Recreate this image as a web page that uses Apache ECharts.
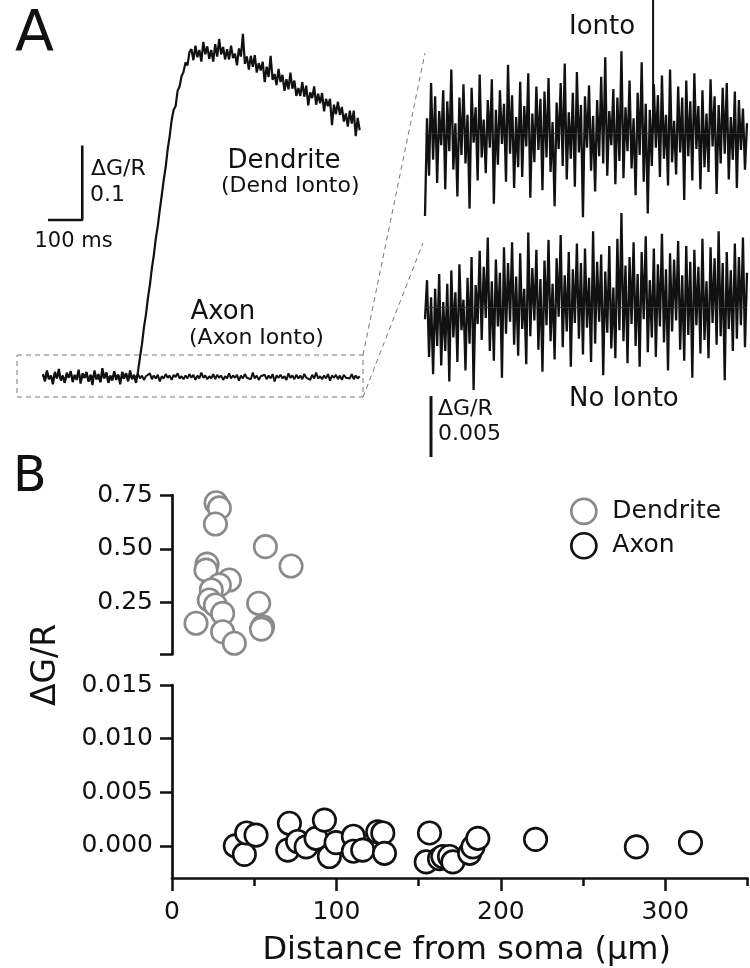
<!DOCTYPE html>
<html><head><meta charset="utf-8">
<script src="https://cdn.jsdelivr.net/npm/echarts@6.0.0/dist/echarts.min.js"></script>
<style>html,body{margin:0;padding:0;background:#fff}#c{width:750px;height:968px}</style>
</head><body><div id="c"></div>
<script>
// ---------- Panel A: traces (ΔG/R), sampled every TRACE_DT_MS ----------
const TRACE_DT_MS = 6;
const dendriteTrace = [
 0.004,-0.006,0.009,-0.003,0.002,-0.010,0.007,-0.002,0.011,-0.005,
 0.001,-0.008,0.006,-0.001,0.008,-0.007,0.003,-0.004,0.010,-0.009,
 0.005,0.000,0.007,-0.006,0.002,-0.011,0.009,-0.003,0.004,-0.007,
 0.012,-0.002,0.006,-0.008,0.001,-0.005,0.008,-0.004,0.003,-0.010,
 0.007,0.000,0.005,-0.006,0.009,-0.003,0.002,-0.008,
 0.008,0.027,0.045,0.068,0.085,0.108,0.126,0.149,0.167,0.190,0.207,0.229,0.249,0.270,0.288,0.312,0.330,
 0.352,0.366,0.371,0.392,0.398,0.412,0.418,0.431,0.427,0.445,
 .449,.434,.454,.438,.448,.432,.459,.442,.453,.436,
 .448,.432,.456,.439,.463,.442,.452,.435,.449,.435,
 .454,.437,.443,.427,.450,.439,.470,.429,.439,.421,
 .440,.425,.441,.417,.430,.420,.432,.404,.425,.411,
 .440,.407,.415,.400,.422,.404,.414,.392,.408,.394,
 .417,.395,.406,.385,.396,.385,.404,.384,.399,.372,
 .390,.382,.398,.373,.388,.375,.389,.364,.381,.371,
 .381,.345,.373,.360,.377,.359,.370,.350,.361,.343,
 .365,.347,.365,.330,.355,.338
];
const axonTrace = [
 0.003,-0.004,0.006,-0.002,0.001,-0.005,0.004,-0.001,0.005,-0.003,
 0.002,-0.006,0.003,0.000,0.006,-0.004,0.001,-0.002,0.007,-0.005,
 0.002,-0.001,0.004,-0.006,0.003,-0.002,0.005,-0.003,0.000,-0.007,
 0.004,-0.001,0.006,-0.004,0.002,-0.003,0.005,0.000,0.003,-0.005,
 0.001,-0.002,0.004,-0.004,0.002,-0.001,0.003,-0.003,0.004,-0.002,
 0.002,-0.004,0.001,-0.001,0.005,-0.003,0.002,-0.002,0.003,-0.006,
 0.001,-0.002,0.004,-0.001,0.002,-0.004,0.003,0.000,0.005,-0.002,
 0.001,-0.003,0.002,-0.002,0.004,-0.001,0.003,-0.004,0.002,-0.002,
 0.006,-0.001,0.002,-0.003,0.001,-0.002,0.004,-0.003,0.003,-0.001,
 0.002,-0.004,0.001,-0.002,0.005,-0.002,0.002,-0.001,0.003,-0.005,
 0.002,-0.002,0.004,-0.001,0.001,-0.003,0.006,-0.002,0.002,-0.004,
 0.001,-0.001,0.003,-0.003,0.002,-0.002,0.004,-0.006,0.002,-0.001,
 0.003,-0.002,0.001,-0.004,0.005,-0.001,0.002,-0.003,0.003,-0.002,
 0.002,-0.003,0.004,-0.001,0.001,-0.004,0.003,-0.002,0.006,-0.002,
 0.001,-0.003,0.002,-0.002,0.004,-0.005,0.002,-0.001,0.003,-0.003,
 0.002,-0.004,0.003,-0.001,0.001,-0.002,0.004,-0.003,0.002,-0.002,
 0.001
];
// zoomed axon traces (ΔG/R), spanning ZOOM_SPAN_MS
const ZOOM_SPAN_MS = 967;
const iontoTrace = [
 -.0068,.0012,-.0035,.0041,-.0022,.0030,-.0041,.0018,-.0010,.0035,
 -.0046,.0026,-.0015,.0052,-.0030,.0008,-.0052,.0029,-.0018,.0040,
 -.0025,.0015,-.0062,.0037,-.0008,.0021,-.0039,.0048,-.0020,.0011,
 -.0033,.0027,-.0012,.0044,-.0058,.0019,-.0026,.0035,-.0009,.0024,
 -.0040,.0056,-.0017,.0031,-.0045,.0013,-.0028,.0042,-.0036,.0022,
 -.0011,.0049,-.0053,.0016,-.0024,.0038,-.0014,.0028,-.0047,.0034,
 -.0020,.0045,-.0032,.0009,-.0060,.0025,-.0013,.0041,-.0027,.0057,
 -.0038,.0017,-.0021,.0033,-.0044,.0050,-.0016,.0023,-.0069,.0030,
 -.0012,.0039,-.0031,.0014,-.0048,.0027,-.0019,.0046,-.0025,.0062,
 -.0035,.0018,-.0010,.0036,-.0042,.0029,-.0023,.0067,-.0037,.0021,
 -.0015,.0043,-.0029,.0012,-.0051,.0033,-.0018,.0058,-.0040,.0024,
 -.0066,.0019,-.0027,.0040,-.0012,.0031,-.0036,.0047,-.0021,.0015,
 -.0043,.0052,-.0024,.0010,-.0034,.0038,-.0016,.0029,-.0055,.0043,
 -.0019,.0026,-.0039,.0049,-.0013,.0022,-.0046,.0035,-.0028,.0016,
 -.0032,.0044,-.0011,.0030,-.0050,.0023,-.0025,.0037,-.0017,.0041,
 -.0038,.0013,-.0022,.0034,-.0045,.0027,-.0014,.0020,-.0030,.0008
];
const noIontoTrace = [
 -.0010,.0022,-.0041,.0008,-.0055,.0015,-.0032,.0027,-.0048,.0004,
 -.0036,.0019,-.0061,.0030,-.0025,.0012,-.0045,.0035,-.0019,.0006,
 -.0052,.0024,-.0030,.0041,-.0068,.0018,-.0014,.0046,-.0027,.0033,
 -.0009,.0057,-.0036,.0021,-.0044,.0039,-.0016,.0028,-.0058,.0049,
 -.0022,.0036,-.0012,.0053,-.0031,.0025,-.0040,.0044,-.0018,.0015,
 -.0047,.0061,-.0024,.0032,-.0011,.0047,-.0035,.0023,-.0053,.0038,
 -.0015,.0055,-.0028,.0019,-.0043,.0040,-.0008,.0059,-.0033,.0026,
 -.0020,.0045,-.0049,.0031,-.0013,.0052,-.0026,.0036,-.0039,.0048,
 -.0017,.0024,-.0045,.0062,-.0030,.0037,-.0012,.0043,-.0056,.0029,
 -.0021,.0050,-.0034,.0016,-.0042,.0056,-.0019,.0077,-.0028,.0034,
 -.0046,.0041,-.0014,.0053,-.0032,.0027,-.0049,.0045,-.0010,.0058,
 -.0037,.0022,-.0025,.0048,-.0041,.0035,-.0016,.0060,-.0029,.0031,
 -.0052,.0044,-.0020,.0039,-.0011,.0054,-.0035,.0026,-.0044,.0050,
 -.0023,.0037,-.0058,.0047,-.0015,.0033,-.0038,.0056,-.0027,.0021,
 -.0042,.0049,-.0013,.0040,-.0031,.0062,-.0024,.0036,-.0060,.0045,
 -.0018,.0030,-.0036,.0052,-.0026,.0041,-.0015,.0057,-.0033,.0028
];
const iontoOnsetMs = 685;
// scale bars: [time ms, ΔG/R]
const scaleBarMain = [[119, 0.3155], [119, 0.215], [19, 0.215]];   // 0.1 ΔG/R, 100 ms
const scaleBarZoom = [[18, -0.0073], [18, -0.0123]];                // 0.005 ΔG/R

// ---------- Panel B: scatter ----------
const dendDistance = [26.8,28.8,26.4,56.8,72.4,21.3,20.7,34.9,28.8,23.9,22.7,26.4,30.8,14.6,30.8,37.9,52.7,55.1,54.4];
const dendDGR      = [0.714,0.690,0.615,0.510,0.420,0.429,0.401,0.355,0.332,0.309,0.262,0.239,0.200,0.154,0.115,0.061,0.247,0.138,0.127];
const axonDistance = [38.5,44.0,45.4,51.1,71.4,70.4,76.4,81.6,87.6,92.7,95.7,99.8,110.3,110.3,116.0,125.1,128.2,129.2,156.6,154.6,162.7,164.7,168.8,170.8,181.0,183.0,186.0,221.1,282.4,315.3];
const axonDGR      = [0.0000,-0.0008,0.0012,0.0010,0.0021,-0.0004,0.0004,-0.0001,0.0007,0.0024,-0.0010,0.0003,0.0009,-0.0005,-0.0004,0.0013,0.0012,-0.0007,0.0012,-0.0015,-0.0012,-0.0010,-0.0010,-0.0015,-0.0007,-0.0001,0.0007,0.0006,-0.0001,0.0003];
const upperTicks = [0.25, 0.50, 0.75];
const lowerTicks = [0, 0.005, 0.010, 0.015];
const xMajorTicks = [0, 100, 200, 300];
const xMinorTicks = [50, 150, 250, 350];

const FONT = 'DejaVu Sans';
const INK = '#111';
const GREY = '#8a8a8a';

const zoomDt = ZOOM_SPAN_MS / (iontoTrace.length - 1);
const asSeries = (arr, dt) => arr.map((v, i) => [+(i * dt).toFixed(2), v]);

function txt(text, x, y, size, extra) {
  return Object.assign({
    type: 'text', x: x, y: y, silent: true,
    style: { text: text, x: 0, y: 0, font: size + 'px "' + FONT + '"', fill: INK,
             textAlign: 'left', textVerticalAlign: 'middle', align: 'left', verticalAlign: 'middle' }
  }, extra || {});
}

const hiddenX = (grid, max) => ({ gridIndex: grid, type: 'value', min: 0, max: max, show: false });
const hiddenY = (grid, min, max) => ({ gridIndex: grid, type: 'value', min: min, max: max, show: false });

const chart = echarts.init(document.getElementById('c'), null, { renderer: 'canvas' });
chart.setOption({
  animation: false,
  backgroundColor: '#fff',
  textStyle: { fontFamily: FONT, color: INK },
  grid: [
    { left: 43, top: 12, width: 319, height: 401.5 },
    { left: 425, top: 0, width: 322, height: 230.6 },
    { left: 425, top: 209.4, width: 322, height: 256.2 },
    { left: 172, top: 495, width: 575.5, height: 159.3 },
    { left: 172, top: 685, width: 575.5, height: 193 }
  ],
  xAxis: [
    hiddenX(0, 967), hiddenX(1, ZOOM_SPAN_MS), hiddenX(2, ZOOM_SPAN_MS), hiddenX(3, 350),
    { gridIndex: 4, type: 'value', min: 0, max: 350, position: 'bottom',
      axisLine: { show: true, onZero: false, lineStyle: { color: INK, width: 2.7 } },
      axisTick: { show: true, length: 13, customValues: xMajorTicks, lineStyle: { color: INK, width: 2.5 } },
      axisLabel: { show: true, customValues: xMajorTicks, margin: 22, fontSize: 25, color: INK, fontFamily: FONT },
      splitLine: { show: false } },
    { gridIndex: 4, type: 'value', min: 0, max: 350, position: 'bottom',
      axisLine: { show: false, onZero: false },
      axisTick: { show: true, length: 8, customValues: xMinorTicks, lineStyle: { color: INK, width: 2.5 } },
      axisLabel: { show: false }, splitLine: { show: false } }
  ],
  yAxis: [
    hiddenY(0, -0.05, 0.5), hiddenY(1, -0.008, 0.0109), hiddenY(2, -0.013, 0.008),
    { gridIndex: 3, type: 'value', min: 0.01, max: 0.75,
      axisLine: { show: true, onZero: false, lineStyle: { color: INK, width: 2.7 } },
      axisTick: { show: true, length: 12, customValues: [0.01].concat(upperTicks), lineStyle: { color: INK, width: 2.5 } },
      axisLabel: { show: true, customValues: upperTicks, margin: 19, fontSize: 25, color: INK, fontFamily: FONT,
                   formatter: v => v.toFixed(2) },
      splitLine: { show: false } },
    { gridIndex: 4, type: 'value', min: -0.003, max: 0.015,
      axisLine: { show: true, onZero: false, lineStyle: { color: INK, width: 2.7 } },
      axisTick: { show: true, length: 12, customValues: lowerTicks, lineStyle: { color: INK, width: 2.5 } },
      axisLabel: { show: true, customValues: lowerTicks, margin: 19, fontSize: 25, color: INK, fontFamily: FONT,
                   formatter: v => v.toFixed(3) },
      splitLine: { show: false } }
  ],
  legend: {
    orient: 'vertical', left: 570, top: 497.5, padding: 0, itemGap: 6.7,
    itemWidth: 25, itemHeight: 25,
    textStyle: { fontSize: 25, color: INK, fontFamily: FONT, padding: [0, 0, 0, 11] },
    data: [
      { name: 'Dendrite', icon: 'circle', itemStyle: { color: '#fff', borderColor: GREY, borderWidth: 2.7 } },
      { name: 'Axon', icon: 'circle', itemStyle: { color: '#fff', borderColor: INK, borderWidth: 2.7 } }
    ]
  },
  series: [
    { type: 'line', name: 'axonTrace', xAxisIndex: 0, yAxisIndex: 0, data: asSeries(axonTrace, TRACE_DT_MS),
      showSymbol: false, lineStyle: { color: INK, width: 2 }, silent: true },
    { type: 'line', name: 'dendriteTrace', xAxisIndex: 0, yAxisIndex: 0, data: asSeries(dendriteTrace, TRACE_DT_MS),
      showSymbol: false, lineStyle: { color: INK, width: 2.2 }, silent: true },
    { type: 'line', name: 'scaleMain', xAxisIndex: 0, yAxisIndex: 0, data: scaleBarMain,
      showSymbol: false, lineStyle: { color: INK, width: 2.6, cap: 'square' }, silent: true },
    { type: 'line', name: 'ionto', xAxisIndex: 1, yAxisIndex: 1, data: asSeries(iontoTrace, zoomDt),
      showSymbol: false, lineStyle: { color: INK, width: 2.3 }, silent: true,
      markLine: { silent: true, symbol: 'none', label: { show: false },
                  lineStyle: { color: '#333', width: 0.8, type: 'solid' }, data: [{ yAxis: 0 }] } },
    { type: 'line', name: 'iontoMarker', xAxisIndex: 1, yAxisIndex: 1,
      data: [[iontoOnsetMs, 0.0109], [iontoOnsetMs, 0]],
      showSymbol: false, lineStyle: { color: INK, width: 2 }, silent: true },
    { type: 'line', name: 'noIonto', xAxisIndex: 2, yAxisIndex: 2, data: asSeries(noIontoTrace, zoomDt),
      showSymbol: false, lineStyle: { color: INK, width: 2.3 }, silent: true,
      markLine: { silent: true, symbol: 'none', label: { show: false },
                  lineStyle: { color: '#333', width: 0.8, type: 'solid' }, data: [{ yAxis: 0 }] } },
    { type: 'line', name: 'scaleZoom', xAxisIndex: 2, yAxisIndex: 2, data: scaleBarZoom,
      showSymbol: false, lineStyle: { color: INK, width: 3 }, silent: true },
    { type: 'scatter', name: 'Dendrite', xAxisIndex: 3, yAxisIndex: 3,
      data: dendDistance.map((d, i) => [d, dendDGR[i]]),
      symbol: 'circle', symbolSize: 22.5,
      itemStyle: { color: '#fff', borderColor: GREY, borderWidth: 2.6, opacity: 1 } },
    { type: 'scatter', name: 'Axon', xAxisIndex: 4, yAxisIndex: 4,
      data: axonDistance.map((d, i) => [d, axonDGR[i]]),
      symbol: 'circle', symbolSize: 22.5,
      itemStyle: { color: '#fff', borderColor: INK, borderWidth: 2.6, opacity: 1 } }
  ],
  graphic: [
    { type: 'rect', silent: true, z: 1, shape: { x: 17, y: 355, width: 346, height: 42 },
      style: { fill: null, stroke: '#777', lineWidth: 1, lineDash: [5, 4] } },
    { type: 'line', silent: true, shape: { x1: 363, y1: 355, x2: 425, y2: 53 },
      style: { stroke: '#777', lineWidth: 1, lineDash: [5, 4] } },
    { type: 'line', silent: true, shape: { x1: 363, y1: 397, x2: 423, y2: 243 },
      style: { stroke: '#777', lineWidth: 1, lineDash: [5, 4] } },
    txt('A', 15, 36.4, 57),
    txt('B', 13, 477.8, 49),
    txt('Dendrite', 227.5, 160.8, 26),
    txt('(Dend Ionto)', 221, 186, 22),
    txt('Axon', 190.5, 311.8, 26),
    txt('(Axon Ionto)', 189, 338, 22),
    txt('\u0394G/R', 91, 169.5, 22),
    txt('0.1', 90, 195.5, 22),
    txt('100 ms', 34.5, 242, 21),
    txt('Ionto', 569, 26.8, 26),
    txt('No Ionto', 569, 398.8, 26),
    txt('\u0394G/R', 438, 409, 22),
    txt('0.005', 438, 434, 22),
    txt('\u0394G/R', 46, 665, 33, { rotation: Math.PI / 2, style: { text: '\u0394G/R', x: 0, y: 0,
        font: '33px "' + FONT + '"', fill: INK, textAlign: 'center', textVerticalAlign: 'middle', align: 'center', verticalAlign: 'middle' } }),
    txt('Distance from soma (\u03bcm)', 466.7, 950.2, 32, { style: { text: 'Distance from soma (\u03bcm)', x: 0, y: 0,
        font: '32px "' + FONT + '"', fill: INK, textAlign: 'center', textVerticalAlign: 'middle', align: 'center', verticalAlign: 'middle' } })
  ]
});
</script></body></html>
